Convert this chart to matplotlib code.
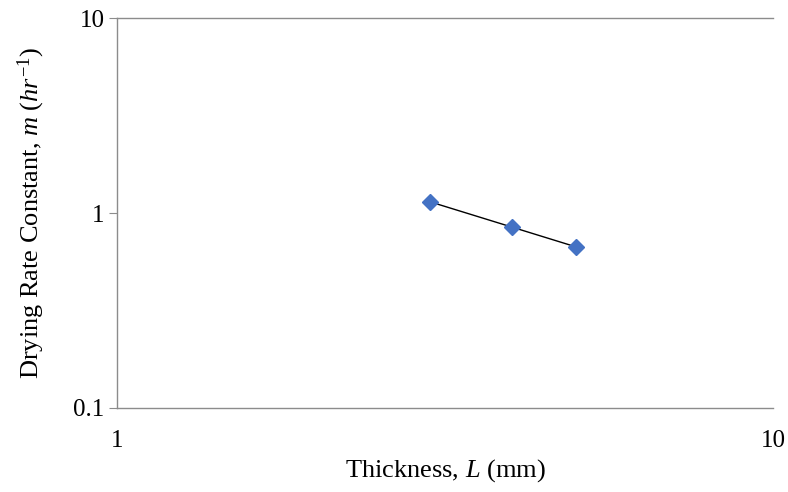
import matplotlib.pyplot as plt
import numpy as np

# Données
epaisseur = [3, 4, 5]              # L (mm)
constante = [1.14, 0.85, 0.67]     # m (hr^-1)

plt.rcParams['font.family'] = 'Liberation Serif'
plt.rcParams['mathtext.fontset'] = 'custom'
plt.rcParams['mathtext.rm'] = 'Liberation Serif'
plt.rcParams['mathtext.it'] = 'Liberation Serif:italic'

fig = plt.figure(figsize=(7.88, 4.92), dpi=100)
ax = fig.add_axes([0.1485, 0.171, 0.8325, 0.792])

# Courbe de tendance (loi de puissance)
coef = np.polyfit(np.log(epaisseur), np.log(constante), 1)
x_fit = np.linspace(min(epaisseur), max(epaisseur), 100)
y_fit = np.exp(coef[1]) * x_fit ** coef[0]
ax.plot(x_fit, y_fit, color='black', linewidth=1)

ax.plot(epaisseur, constante, linestyle='none', marker='D', markersize=8.5,
        color='#4472C4')

ax.set_xscale('log')
ax.set_yscale('log')
ax.set_xlim(1, 10)
ax.set_ylim(0.1, 10)
ax.set_xticks([1, 10])
ax.set_xticklabels(['1', '10'])
ax.set_yticks([0.1, 1, 10])
ax.set_yticklabels(['0.1', '1', '10'])
ax.minorticks_off()

for s in ['top', 'bottom', 'left']:
    ax.spines[s].set_color('#8c8c8c')
    ax.spines[s].set_linewidth(1)
ax.spines['right'].set_visible(False)

ax.tick_params(axis='y', length=6, color='#8c8c8c', labelsize=18, pad=3)
ax.tick_params(axis='x', length=0, labelsize=18, pad=16)

ax.set_xlabel('Thickness, $L$ (mm)', fontsize=19, labelpad=4)
ax.set_ylabel('Drying Rate Constant, $m$ ($hr^{-1}$)', fontsize=19, labelpad=19)

plt.savefig('out.png', dpi=100)
